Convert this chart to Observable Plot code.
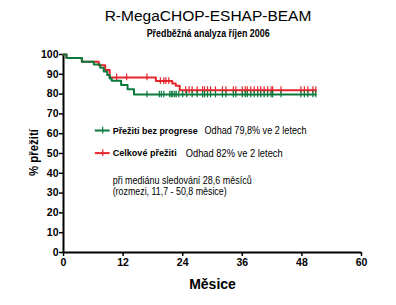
<!DOCTYPE html>
<html><head><meta charset="utf-8">
<script src="https://cdn.jsdelivr.net/npm/d3@7"></script>
<script src="https://cdn.jsdelivr.net/npm/@observablehq/plot@0.6"></script>
<style>
body{margin:0;background:#fff;}
#wrap{position:relative;width:396px;height:305px;overflow:hidden;font-family:"Liberation Sans",Arial,sans-serif;}
.ttl{position:absolute;left:0;width:416px;text-align:center;color:#000;white-space:nowrap;}
.ttl span{display:inline-block;transform-origin:center;}
#t1{top:7px;font-size:15.5px;}
#t2{top:27px;font-size:11px;font-weight:bold;}
#chart{position:absolute;left:0;top:40px;}
</style></head>
<body><div id="wrap">
<div class="ttl" id="t1"><span>R-MegaCHOP-ESHAP-BEAM</span></div>
<div class="ttl" id="t2"><span>Předběžná analyza říjen 2006</span></div>
<div id="chart"></div>
</div>
<script>
// Overall survival (red) step curve
const osTime = [0, 0.6, 3.7, 7.1, 8.4, 9.3, 18.6, 21.9, 22.6, 23.4, 50.8];
const osSurv = [100, 98.2, 96.4, 94.6, 92.2, 88.4, 86.6, 85.4, 84.2, 82.0, 82.0];
const osCensor = [10.7, 12.7, 16.8, 19.5, 20.2, 20.6, 21.2, 24.6, 25.3, 25.9, 26.9, 28.0, 28.4, 29.0, 29.6, 30.6, 32.0, 32.7, 34.2, 34.7, 36.0, 36.6, 37.0, 37.7, 38.4, 39.1, 39.7, 40.4, 41.1, 41.8, 42.1, 43.8, 47.8, 48.5, 49.2, 50.2, 50.8];
// Progression-free survival (green) step curve
const pfsTime = [0, 0.6, 3.7, 6.1, 7.4, 8.1, 8.8, 9.3, 9.7, 11.6, 12.9, 14.2, 50.8];
const pfsSurv = [100, 98.2, 96.4, 95.0, 93.3, 91.4, 89.6, 87.9, 86.8, 84.6, 82.4, 79.8, 79.8];
const pfsCensor = [16.8, 19.3, 19.7, 20.2, 21.4, 21.7, 22.0, 22.4, 22.7, 23.2, 24.0, 24.8, 25.9, 26.9, 28.0, 28.4, 29.0, 29.6, 30.6, 32.0, 32.7, 34.2, 34.7, 36.0, 36.6, 37.0, 37.7, 38.4, 39.1, 39.7, 40.4, 41.1, 41.8, 42.1, 43.8, 47.8, 48.5, 49.2, 50.2, 50.8];
const xTicks = [0, 12, 24, 36, 48, 60];
const yTicks = [0, 10, 20, 30, 40, 50, 60, 70, 80, 90, 100];
const seriesNames = ["Přežiti bez progrese", "Celkové přežiti"];
const estimates = ["Odhad 79,8% ve 2 letech", "Odhad 82% ve 2 letech"];
const notes = ["při mediánu sledování 28,6 měsíců", "(rozmezi, 11,7 - 50,8 měsice)"];
const xLabel = "Měsice";
const yLabel = "% přežití";
const RED = "#e4262c", GREEN = "#0b7a3c";

const toPts = (T, S) => T.map((t, i) => ({t, s: S[i]}));
const levelAt = (T, S, x) => { let v = S[0]; for (let i = 0; i < T.length; i++) if (T[i] <= x) v = S[i]; return v; };
const osPts = toPts(osTime, osSurv), pfsPts = toPts(pfsTime, pfsSurv);
const osC = osCensor.map(t => ({t, s: levelAt(osTime, osSurv, t)}));
const pfsC = pfsCensor.map(t => ({t, s: levelAt(pfsTime, pfsSurv, t)}));

const sans = '"Liberation Sans",Arial,sans-serif';
const legendRows = [
  {name: seriesNames[0], est: estimates[0], color: GREEN, y: 61.6, ex: 28.4},
  {name: seriesNames[1], est: estimates[1], color: RED, y: 50.2, ex: 24.6}
];

const plot = Plot.plot({
  width: 396, height: 265,
  marginTop: 14, marginBottom: 53, marginLeft: 63, marginRight: 35,
  style: {fontFamily: sans, fontSize: "10.5px", fontWeight: "bold", color: "#000", background: "#fff"},
  x: {domain: [0, 60], label: null},
  y: {domain: [0, 100], label: null},
  marks: [
    Plot.axisX({ticks: xTicks, tickSize: 4, tickPadding: 2, label: null, strokeWidth: 1.5}),
    Plot.axisY({ticks: yTicks, tickSize: 4, tickPadding: 1, label: null, strokeWidth: 1.5}),
    Plot.ruleX([0], {y1: 0, y2: 100, strokeWidth: 2}),
    Plot.ruleY([0], {x1: 0, x2: 60, strokeWidth: 2}),
    Plot.line(osPts, {x: "t", y: "s", curve: "step-after", stroke: RED, strokeWidth: 2}),
    Plot.line(pfsPts, {x: "t", y: "s", curve: "step-after", stroke: GREEN, strokeWidth: 2}),
    Plot.ruleX(osC, {x: "t", y1: d => d.s - 1.7, y2: d => d.s + 1.7, stroke: RED, strokeWidth: 1.2}),
    Plot.ruleX(pfsC, {x: "t", y1: d => d.s - 1.7, y2: d => d.s + 1.7, stroke: GREEN, strokeWidth: 1.2}),
    // legend markers
    Plot.ruleY(legendRows, {y: "y", x1: 6.4, x2: 9.4, stroke: "color", strokeWidth: 2}),
    Plot.ruleX(legendRows, {x: 7.9, y1: d => d.y - 1.7, y2: d => d.y + 1.7, stroke: "color", strokeWidth: 1.2}),
    Plot.text(legendRows, {x: 9.9, y: "y", text: "name", textAnchor: "start", fontWeight: "bold", fontSize: 9.5, fontFamily: sans, className: "fitname"}),
    Plot.text(legendRows, {x: "ex", y: "y", text: "est", textAnchor: "start", fontWeight: "normal", fontSize: 11.5, fontFamily: sans, className: "fitest"}),
    Plot.text(notes, {x: 9.9, y: (d, i) => [36.2, 30.6][i], text: d => d, textAnchor: "start", fontWeight: "normal", fontSize: 11, fontFamily: sans, className: "fitnote"}),
    // axis titles
    Plot.text([xLabel], {x: 30, y: 0, dy: 32, text: d => d, fontSize: 14, fontWeight: "bold", fontFamily: sans}),
    Plot.text([yLabel], {x: 0, y: 50.5, dx: -30, text: d => d, rotate: -90, fontSize: 12.5, fontWeight: "bold", fontFamily: sans, className: "fitylab"})
  ]
});
document.getElementById("chart").appendChild(plot);

// condense texts to mimic the narrow typeface of the original
function fit(cls, widths) {
  d3.select(plot).selectAll("g." + cls + " text").each(function(d, i) {
    const w = widths[i % widths.length];
    this.setAttribute("textLength", w);
    this.setAttribute("lengthAdjust", "spacingAndGlyphs");
  });
}
fit("fitname", [85, 64]);
fit("fitest", [102, 97]);
fit("fitnote", [139, 114]);
fit("fitylab", [47]);
function fitSpan(sel, w) {
  const s = document.querySelector(sel);
  const cur = s.getBoundingClientRect().width;
  s.style.transform = "scaleX(" + (w / cur) + ")";
}
fitSpan("#t2 span", 123);
</script>
</body></html>
